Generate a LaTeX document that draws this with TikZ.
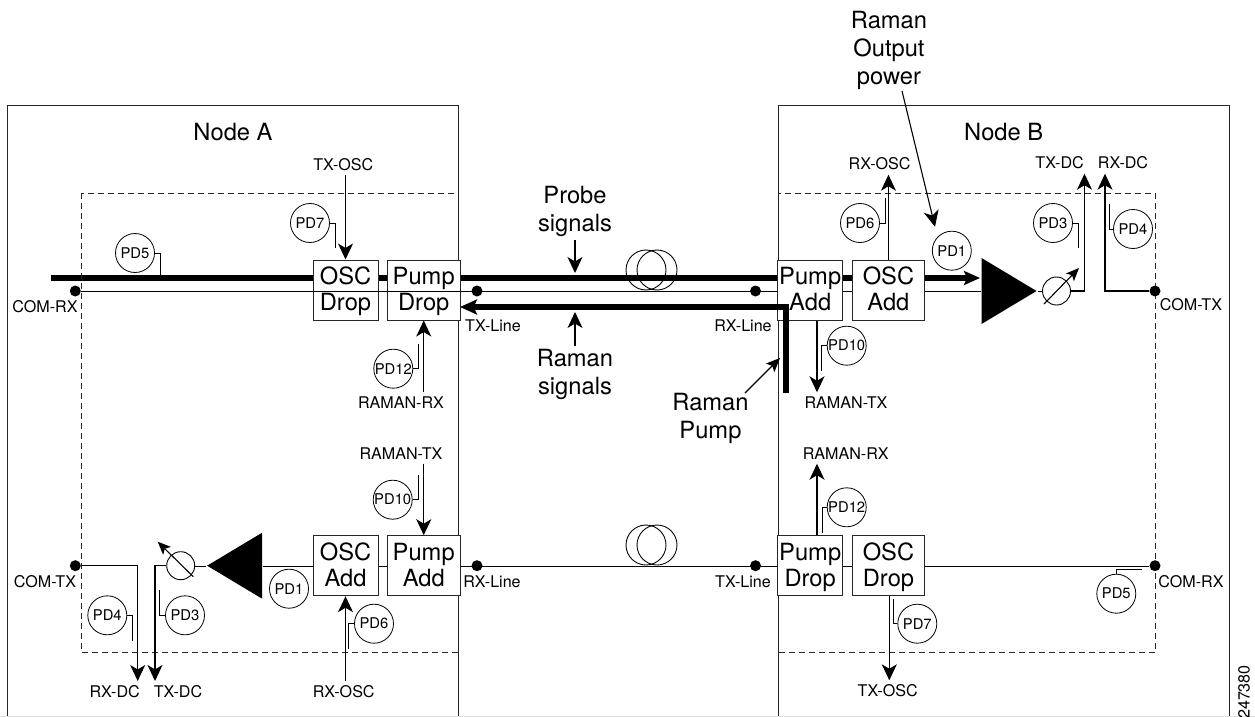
\documentclass[tikz,border=0pt]{standalone}
\usepackage{fontspec}
\setmainfont{TeX Gyre Heros}
\usetikzlibrary{positioning, arrows.meta, calc, shapes.geometric}
\pgfdeclarelayer{back}
\pgfsetlayers{back, main}

\begin{document}
\begin{tikzpicture}[
    x=1pt, y=-1pt, >={Stealth[length=16pt, width=15pt, inset=4.5pt]},
    line width=1.1pt, line join=miter,
    frame_box/.style ={draw=black!85, line width=1pt},
    dash_box/.style  ={draw=black!85, line width=1pt, dash pattern=on 6pt off 4pt},
    unit_box/.style  ={draw=black!85, fill=white, line width=1pt, inner sep=0pt, minimum height=60pt, align=center, text height=46.6pt, text depth=5pt, font=\fontsize{23.7}{26.3}\selectfont},
    pd/.style        ={circle, draw=black, line width=0.8pt, inner sep=0pt, minimum size=39pt, font=\fontsize{14.8}{16}\selectfont},
    lbl/.style       ={inner sep=4pt, align=center, font=\fontsize{16.1}{18}\selectfont},
    big_lbl/.style   ={inner sep=3pt, align=center, font=\fontsize{23.7}{28}\selectfont},
    dot/.style       ={circle, fill=black, inner sep=0pt, minimum size=11pt},
    leader/.style    ={draw=black, line width=0.8pt},
    sig/.style       ={->, draw=black, line width=1.1pt},
    thick_sig/.style ={draw=black, line width=5.3pt},
    att/.style       ={circle, draw=black, line width=0.9pt, inner sep=0pt, minimum size=28pt},
    coil/.style      ={circle, draw=black, line width=0.9pt, inner sep=0pt, minimum size=40pt},
    amp/.style       ={isosceles triangle, isosceles triangle stretches, fill=black, inner sep=0pt, minimum width=66pt, minimum height=55pt, anchor=apex}
]

\useasboundingbox (0,0) rectangle (1255,717);

% Frames of the two nodes
\draw[frame_box] (7.5,716) -- (7.5,105) -- (458.5,105) -- (458.5,716);
\draw[frame_box] (778,716) -- (778,105) -- (1229,105) -- (1229,716);
\draw[draw=black!12, line width=0.8pt] (0,716.5) -- (1255,716.5);
\draw[dash_box] (81,193) rectangle (458.5,652);
\draw[dash_box] (778,193) rectangle (1155.5,652);
\node[big_lbl] (title_a) at (233,131.7) {Node A};
\node[big_lbl] (title_b) at (1003.7,131.7) {Node B};

% Units
\node[unit_box, minimum width=65pt] (a_osc_drop) at (345.5,290) {OSC\\Drop};
\node[unit_box, minimum width=72.5pt, right=8.5pt of a_osc_drop] (a_pump_drop) {Pump\\Drop};
\node[unit_box, minimum width=65pt] (a_osc_add) at (345.5,565.7) {OSC\\Add};
\node[unit_box, minimum width=72.5pt, right=8.5pt of a_osc_add] (a_pump_add) {Pump\\Add};
\node[unit_box, minimum width=64.5pt] (b_pump_add) at (810.2,290) {Pump\\Add};
\node[unit_box, minimum width=72pt, right=9pt of b_pump_add] (b_osc_add) {OSC\\Add};
\node[unit_box, minimum width=64.5pt] (b_pump_drop) at (810.2,565.7) {Pump\\Drop};
\node[unit_box, minimum width=72pt, right=9pt of b_pump_drop] (b_osc_drop) {OSC\\Drop};

% Dots
\node[dot] (a_com_rx) at (75.3,291) {};
\node[dot] (a_tx_line) at (477,291) {};
\node[dot] (b_rx_line) at (755.5,291) {};
\node[dot] (b_com_tx) at (1155,291) {};
\node[dot] (a_com_tx) at (75.3,565.7) {};
\node[dot] (a_rx_line) at (477,565.7) {};
\node[dot] (b_tx_line) at (755.5,565.7) {};
\node[dot] (b_com_rx) at (1155,565.7) {};

% Amplifiers and attenuators
\node[amp] (b_amp) at (1038,291) {};
\node[amp, shape border rotate=180] (a_amp) at (205.7,565.7) {};
\node[att] (b_att) at (1056.5,291) {};
\node[att] (a_att) at (180.7,565.7) {};

% Small labels
\node[lbl] (a_com_rx_txt) at (45,306.7) {COM-RX};
\node[lbl] (a_com_tx_txt) at (45,581.7) {COM-TX};
\node[lbl] (a_tx_line_txt) at (493,326) {TX-Line};
\node[lbl] (b_rx_line_txt) at (743,326) {RX-Line};
\node[lbl] (a_rx_line_txt) at (492,581.7) {RX-Line};
\node[lbl] (b_tx_line_txt) at (743,581.7) {TX-Line};
\node[lbl] (b_com_tx_txt) at (1191,305) {COM-TX};
\node[lbl] (b_com_rx_txt) at (1191,581.7) {COM-RX};
\node[lbl] (a_tx_osc) at (343.3,164.3) {TX-OSC};
\node[lbl] (a_raman_rx) at (401,402.7) {RAMAN-RX};
\node[lbl] (a_raman_tx) at (401,453.3) {RAMAN-TX};
\node[lbl] (a_rx_dc) at (114.7,691.7) {RX-DC};
\node[lbl] (a_tx_dc) at (178,691.7) {TX-DC};
\node[lbl] (a_rx_osc) at (343.7,691.7) {RX-OSC};
\node[lbl] (b_rx_osc) at (879.6,164) {RX-OSC};
\node[lbl] (b_tx_dc) at (1059.6,163) {TX-DC};
\node[lbl] (b_rx_dc) at (1123,163) {RX-DC};
\node[lbl] (b_raman_tx) at (846,402.7) {RAMAN-TX};
\node[lbl] (b_raman_rx) at (845.7,453.3) {RAMAN-RX};
\node[lbl] (b_tx_osc) at (887.7,691) {TX-OSC};
\node[lbl, rotate=90] (fig_no) at (1244,692) {247380};

% Big labels
\node[big_lbl] (probe_txt) at (575,211.5) {Probe\\signals};
\node[big_lbl] (raman_sig_txt) at (575,374.5) {Raman\\signals};
\node[big_lbl] (raman_pump_txt) at (710.5,418.5) {Raman\\Pump};
\node[big_lbl] (raman_out_txt) at (889,50) {Raman\\Output\\power};

% Fibre spools
\node[coil] (coil_top_1) at (646,270) {};
\node[coil] (coil_top_2) at (657,270) {};
\node[coil] (coil_btm_1) at (646,545) {};
\node[coil] (coil_btm_2) at (657,545) {};

% Free ends
\coordinate (thick_start) at (51,278);
\coordinate (thick_tip) at (980,278);
\coordinate (pump_corner) at (786,307);
\coordinate (pump_end) at (786,393);
\coordinate (pump_tip) at (460,307);
\coordinate (probe_tip) at (575,273);
\coordinate (raman_sig_tip) at (575,312);
\coordinate (raman_pump_tip) at (780,358);
\coordinate (raman_pump_tail) at (745,393);
\coordinate (raman_out_tail) at (902,91);
\coordinate (raman_out_tip) at (935,226.7);
\coordinate (b_att_tail) at (1044,304);
\coordinate (b_att_tip) at (1079,268);
\coordinate (a_att_tail) at (193.3,576.7);
\coordinate (a_att_tip) at (157.7,541.7);

% Thick probe line, behind the units
\begin{pgfonlayer}{back}
    \draw[thick_sig, ->, >={Stealth[length=16pt, width=14pt, inset=3pt]}] (thick_start) -- (thick_tip);
\end{pgfonlayer}

% Thin lines, upper path
\draw (a_com_rx) -- (b_pump_add.west |- a_com_rx);
\draw (b_pump_add.east |- a_com_rx) -- (b_osc_add.west |- a_com_rx);
\draw (b_osc_add.east |- a_com_rx) -- (b_amp.lower side |- a_com_rx);
\draw (b_amp.apex) -- (b_att.west);
\draw[sig] (b_att.east) -| (b_tx_dc.south -| 1084.5,0);
\draw[sig] (b_com_tx) -| (b_rx_dc.south -| 1105,0);

% Thin lines, lower path
\draw[sig] (a_com_tx) -| (a_rx_dc.north -| 137.7,0);
\draw[sig] (a_att.west) -| (a_tx_dc.north -| 155,0);
\draw (a_att.east) -- (a_amp.apex);
\draw (a_amp.lower side |- a_osc_add) -- (a_osc_add.west);
\draw (a_osc_add.east) -- (a_pump_add.west);
\draw (a_pump_add.east) -- (b_pump_drop.west);
\draw (b_pump_drop.east) -- (b_osc_drop.west);
\draw (b_osc_drop.east) -- (b_com_rx);

% Raman pump
\draw[line width=5.3pt, <-, >={Stealth[length=17pt, width=15pt, inset=3.5pt]}] (pump_tip) -- (pump_corner) -- (pump_end);

% Callout arrows
\draw[sig] (probe_txt.south) -- (probe_tip);
\draw[sig] (raman_sig_txt.north) -- (raman_sig_tip);
\draw[sig, >={Stealth[length=14pt, width=12pt, inset=3pt]}] (raman_pump_tail) -- (raman_pump_tip);
\draw[sig] (raman_out_tail) -- (raman_out_tip);
\draw[sig, >={Stealth[length=13pt, width=11pt, inset=3pt]}] (b_att_tail) -- (b_att_tip);
\draw[sig, >={Stealth[length=13pt, width=11pt, inset=3pt]}] (a_att_tail) -- (a_att_tip);

% Add and drop arrows
\draw[sig] (a_tx_osc.south -| a_osc_drop.north) -- (a_osc_drop.north);
\draw[sig] (a_raman_rx.north -| a_pump_drop.south) -- (a_pump_drop.south);
\draw[sig] (a_raman_tx.south -| a_pump_add.north) -- (a_pump_add.north);
\draw[sig] (a_rx_osc.north -| a_osc_add.south) -- (a_osc_add.south);
\draw[sig] (b_osc_add.north) -- (b_rx_osc.south -| b_osc_add.north);
\draw[sig] (b_pump_add.south -| 817,0) -- (b_raman_tx.north -| 817,0);
\draw[sig] (b_pump_drop.north -| 817,0) -- (b_raman_rx.south -| 817,0);
\draw[sig] (b_osc_drop.south -| 889.3,0) -- (b_tx_osc.north -| 889.3,0);

% Power monitors, Node A
\node[pd] (a_pd5) at (135,253) {PD5};
\node[pd] (a_pd7) at (310,223) {PD7};
\node[pd] (a_pd12) at (393.3,368.7) {PD12};
\node[pd] (a_pd10) at (392.7,499.7) {PD10};
\node[pd] (a_pd1) at (289,588.7) {PD1};
\node[pd] (a_pd6) at (374,623.7) {PD6};
\node[pd] (a_pd4) at (107.3,615.3) {PD4};
\node[pd] (a_pd3) at (185,615.3) {PD3};

% Power monitors, Node B
\node[pd] (b_pd6) at (860,223) {PD6};
\node[pd] (b_pd1) at (951.8,250.7) {PD1};
\node[pd] (b_pd3) at (1053,223) {PD3};
\node[pd] (b_pd4) at (1133,229) {PD4};
\node[pd] (b_pd10) at (846.7,345.7) {PD10};
\node[pd] (b_pd12) at (846.7,507.3) {PD12};
\node[pd] (b_pd7) at (917.3,623.7) {PD7};
\node[pd] (b_pd5) at (1116.3,593.7) {PD5};

% Leaders
\draw[leader] (a_pd5.east) -| (160,276);
\draw[leader] (a_pd7.east) -| (335.3,247.7);
\draw[leader] (a_pd12.east) -| (418.3,344);
\draw[leader] (a_pd10.east) -| (418.3,475);
\draw[leader] (a_pd6.west) -| (348.7,649.3);
\draw[leader] (a_pd4.east) -| (132.7,640.7);
\draw[leader] (a_pd3.west) -| (159.3,590.3);
\draw[leader] (b_pd6.east) -| (885.5,198);
\draw[leader] (b_pd3.east) -| (1078,248);
\draw[leader] (b_pd4.west) -| (1109,204);
\draw[leader] (b_pd10.west) -| (821.6,370.7);
\draw[leader] (b_pd12.west) -| (822,532.7);
\draw[leader] (b_pd7.west) -| (893.3,599);
\draw[leader] (b_pd5.north) |- (1141.7,569.7);

\end{tikzpicture}
\end{document}
